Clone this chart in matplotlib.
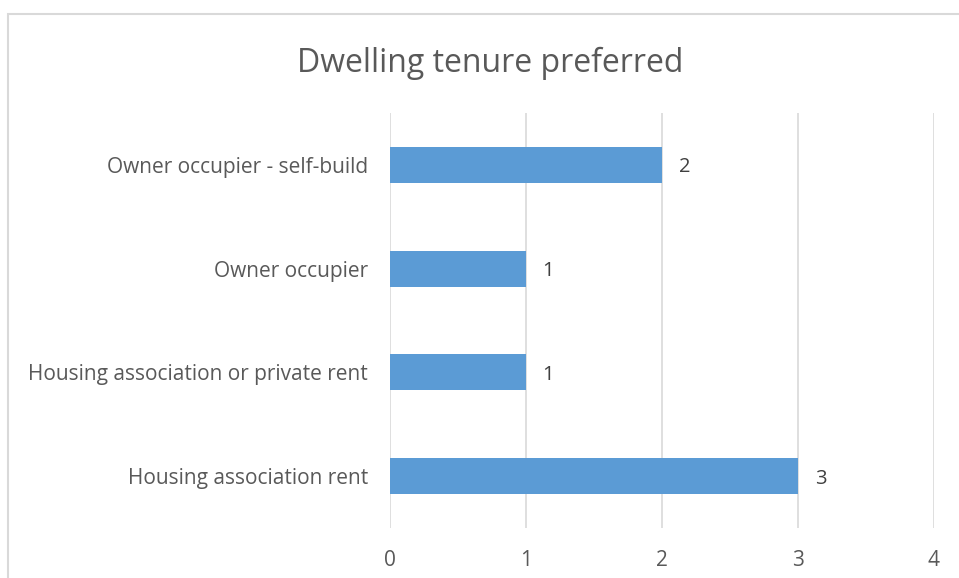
import matplotlib
matplotlib.use("Agg")
import matplotlib.pyplot as plt
from matplotlib.patches import Rectangle

categories = [
    "Housing association rent",
    "Housing association or private rent",
    "Owner occupier",
    "Owner occupier - self-build",
]
counts = [3, 1, 1, 2]
x_ticks = [0, 1, 2, 3, 4]

plt.rcParams["font.family"] = ["Open Sans", "DejaVu Sans"]

fig = plt.figure(figsize=(9.59, 5.78), dpi=100)

# chart frame
frame = Rectangle((8 / 959, -0.1), 1.2, 1 - 14 / 578 + 0.1,
                  transform=fig.transFigure, fill=False,
                  edgecolor="#d9d9d9", linewidth=1.5, zorder=0)
fig.patches.append(frame)

ax = fig.add_axes([390 / 959, 1 - 528 / 578, 544 / 959, 415 / 578])
ypos = list(range(len(categories)))
ax.barh(ypos, counts, height=0.346, color="#5B9BD5", zorder=3)

for y, v in zip(ypos, counts):
    ax.annotate(str(v), xy=(v, y), xytext=(12, 0), textcoords="offset points",
                ha="left", va="center_baseline", fontsize=14.5, color="#404040")

ax.set_xlim(0, 4)
ax.set_ylim(-0.5, 3.5)
ax.set_xticks(x_ticks)
ax.set_yticks(ypos)
ax.set_yticklabels(categories)
ax.tick_params(axis="both", length=0, labelsize=15, labelcolor="#595959")
ax.tick_params(axis="x", pad=16)
ax.tick_params(axis="y", pad=16)
ax.grid(axis="x", color="#d9d9d9", linewidth=1.2, zorder=0)
for s in ax.spines.values():
    s.set_visible(False)

fig.text(490 / 959, 1 - 63 / 578, "Dwelling tenure preferred", ha="center",
         va="center", fontsize=23, color="#595959")

fig.savefig("out.png", dpi=100)
